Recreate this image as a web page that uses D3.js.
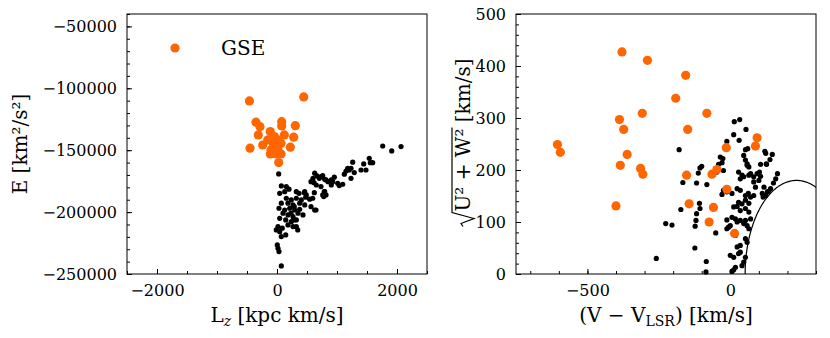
<!DOCTYPE html>
<html>
<head>
<meta charset="utf-8">
<script src="https://cdn.jsdelivr.net/npm/d3@7"></script>
<style>
body { margin: 0; background: #fff; }
text { font-family: "DejaVu Serif", serif; fill: #000; }
</style>
</head>
<body>
<div id="chart"></div>
<script>
// values
// left panel: [Lz (kpc km/s), E (km^2/s^2)]
var gseLzE = [[-460,-110200],[445,-107000],[-350,-127400],[-283,-131000],[78,-127000],[78,-130400],[305,-130200],
  [-312,-137700],[-112,-135000],[-45,-139000],[122,-137700],[278,-139500],[-155,-141700],[12,-141700],[-238,-145800],
  [-55,-145200],[67,-144400],[222,-147600],[-450,-148400],[-100,-149800],[12,-148400],[-112,-153000],[-17,-153000],
  [67,-153000],[28,-160000],[-55,-151200]];

var restLzE = [[28,-169200],[628,-168600],[667,-170800],[600,-172700],[738,-171400],[795,-173500],[617,-176200],
  [655,-178100],[850,-175400],[905,-174000],[905,-178100],[72,-178900],[155,-179400],[200,-181500],[45,-184800],
  [128,-183500],[322,-183500],[367,-184800],[462,-183500],[488,-186100],[795,-183500],[795,-186100],[155,-188800],
  [238,-190200],[322,-188800],[405,-190200],[478,-188000],[545,-189600],[72,-192800],[183,-192800],[267,-194200],
  [378,-192800],[462,-194200],[33,-196900],[128,-198300],[212,-196900],[295,-198300],[378,-197700],[628,-198300],
  [100,-200900],[183,-202300],[267,-203700],[350,-200900],[433,-202300],[45,-205000],[145,-206300],[238,-207700],
  [322,-206300],[17,-211700],[88,-213000],[183,-210400],[267,-211700],[322,-211700],[-12,-214400],[45,-215800],
  [72,-219800],[145,-218400],[5,-226500],[17,-229200],[33,-231900],[72,-243500],[1762,-146600],[1912,-150600],
  [2067,-147100],[1538,-156500],[1555,-160100],[1445,-161100],[1262,-159700],[1178,-164600],[1150,-166800],
  [1122,-169400],[1205,-166000],[1233,-164600],[955,-171800],[1012,-176700],[1095,-177500],[1038,-178600],
  [928,-175400],[762,-170600],[817,-174000],[788,-183500],[817,-186100],[762,-186100],[622,-184300],[595,-188800],
  [567,-195600],[650,-198300],[455,-184300],[288,-195600],[233,-200900],[288,-206300],[345,-214400],[778,-187500],
  [567,-175400],[705,-172700],[733,-179400],[1233,-172700],[1288,-168100],[1400,-166000],[1483,-166000],[1595,-160100]];

// right panel: [V - V_LSR (km/s), sqrt(U^2+W^2) (km/s)]
var gseVUW = [[-379,427],[-290,411],[-156,382],[-191,338],[-308,309],[-82,309],[-388,297],[-373,278],[-149,278],
  [94,262],[88,246],[-605,249],[-595,234],[-14,243],[-361,230],[-385,209],[-314,203],[-306,192],[-153,190],
  [-64,192],[-47,201],[-12,163],[-400,131],[-144,135],[-59,128],[-74,100],[15,78]];

var restVUW = [[-179,239],[-166,176],[-173,124],[-226,97],[-204,94],[-259,30],[-124,50],[-84,24],[-85,4],[-118,175],
  [-112,194],[-106,204],[-100,207],[-82,172],[-118,116],[-120,103],[-123,92],[-108,136],[-106,126],
  [14,293],[33,297],[55,278],[12,268],[31,257],[-12,255],[53,239],[61,241],[47,228],[53,219],[121,236],[124,232],
  [-26,222],[-29,214],[-41,211],[59,209],[65,206],[106,211],[126,212],[-24,199],[29,196],[41,190],[71,193],[82,187],
  [102,196],[106,188],[82,177],[100,180],[88,167],[118,167],[-29,153],[6,155],[53,151],[63,155],[71,148],[82,151],
  [112,155],[124,151],[130,158],[29,138],[41,135],[53,142],[65,136],[24,130],[35,122],[53,126],[65,119],[6,109],
  [18,106],[24,100],[35,103],[53,103],[71,106],[47,97],[59,93],[65,87],[-12,104],[-6,90],[-51,79],[53,68],[59,61],
  [24,52],[35,42],[29,39],[0,36],[12,32],[18,13],[12,8],[6,5],[47,23],[41,16],[53,32],[147,230],[139,220],[127,211],
  [165,193],[159,183],[151,175],[141,164],[133,159],[115,148],[-12,158],[12,129],[-12,87],[0,93],[18,74],[35,55],
  [-47,196],[-35,225],[-24,161],[35,161],[24,164],[59,212],[47,187],[35,183],[65,190],[94,193]];

var lzTicks = [-2000, 0, 2000];
var eTicks = [-250000, -200000, -150000, -100000, -50000];
var vTicks = [-500, 0];
var uwTicks = [0, 100, 200, 300, 400, 500];

// halo boundary: |V_tot - V_LSR| = 180 km/s
var vLSR = 232, vCut = 180;

var orange = "#ff6600";
var rBig = 4.6, rSmall = 2.6;

var svg = d3.select("#chart").append("svg")
  .attr("width", 830)
  .attr("height", 338);

var xL = d3.scaleLinear().domain([-2500, 2500]).range([127, 427]);
var yL = d3.scaleLinear().domain([-250000, -40000]).range([274, 14]);
var xR = d3.scaleLinear().domain([-750, 300]).range([516, 816]);
var yR = d3.scaleLinear().domain([0, 500]).range([274, 14]);

function drawAxes(x, y, xt, xm, yt, ym) {
  var fmt = d3.format("d");
  var x0 = x.range()[0], y0 = y.range()[0];

  var bm = svg.append("g").attr("transform", "translate(0," + y0 + ")")
    .call(d3.axisBottom(x).tickValues(xm).tickSize(-3).tickSizeOuter(0).tickFormat(""));
  var bM = svg.append("g").attr("transform", "translate(0," + y0 + ")")
    .call(d3.axisBottom(x).tickValues(xt).tickSize(-5).tickSizeOuter(0).tickPadding(11).tickFormat(fmt));
  var lm = svg.append("g").attr("transform", "translate(" + x0 + ",0)")
    .call(d3.axisLeft(y).tickValues(ym).tickSize(-3).tickSizeOuter(0).tickFormat(""));
  var lM = svg.append("g").attr("transform", "translate(" + x0 + ",0)")
    .call(d3.axisLeft(y).tickValues(yt).tickSize(-5).tickSizeOuter(0).tickPadding(10).tickFormat(fmt));

  [bm, bM, lm, lM].forEach(function(g) {
    g.select(".domain").remove();
    g.attr("font-family", "DejaVu Serif").attr("font-size", 16);
  });

  svg.append("rect")
    .attr("x", x0).attr("y", y.range()[1])
    .attr("width", x.range()[1] - x0)
    .attr("height", y0 - y.range()[1])
    .attr("fill", "none")
    .attr("stroke", "#000")
    .attr("stroke-width", 1);
}

// ---- left panel
drawAxes(xL, yL, lzTicks, d3.range(-2500, 2501, 500), eTicks, d3.range(-250000, -39999, 10000));

svg.append("g").selectAll("circle")
  .data(restLzE).enter().append("circle")
  .attr("cx", function(d) { return xL(d[0]); })
  .attr("cy", function(d) { return yL(d[1]); })
  .attr("r", rSmall)
  .attr("fill", "#000");

svg.append("g").selectAll("circle")
  .data(gseLzE).enter().append("circle")
  .attr("cx", function(d) { return xL(d[0]); })
  .attr("cy", function(d) { return yL(d[1]); })
  .attr("r", rBig)
  .attr("fill", orange);

// legend
svg.append("circle").attr("cx", 175).attr("cy", 48).attr("r", rBig).attr("fill", orange);
svg.append("text").attr("x", 221).attr("y", 55).attr("font-size", 20).text("GSE");

// x label with subscript z
var lx = svg.append("text").attr("x", 277).attr("y", 322)
  .attr("text-anchor", "middle").attr("font-size", 20);
lx.append("tspan").text("L");
lx.append("tspan").attr("font-size", 14).attr("font-style", "italic").attr("dy", 4).text("z");
lx.append("tspan").attr("dy", -4).text(" [kpc km/s]");

svg.append("text")
  .attr("transform", "translate(27,144) rotate(-90)")
  .attr("text-anchor", "middle").attr("font-size", 20)
  .text("E [km\u00b2/s\u00b2]");

// ---- right panel
drawAxes(xR, yR, vTicks, d3.range(-700, 301, 100), uwTicks, d3.range(0, 501, 20));

svg.append("clipPath").attr("id", "clipR")
  .append("rect").attr("x", 516).attr("y", 14).attr("width", 300).attr("height", 260);

var arc = d3.range(0, 181).map(function(a) {
  var t = a * Math.PI / 180;
  return [vLSR - vCut * Math.cos(t), vCut * Math.sin(t)];
});
svg.append("path")
  .datum(arc)
  .attr("clip-path", "url(#clipR)")
  .attr("fill", "none")
  .attr("stroke", "#000")
  .attr("stroke-width", 1.2)
  .attr("d", d3.line().x(function(d) { return xR(d[0]); }).y(function(d) { return yR(d[1]); }));

svg.append("g").selectAll("circle")
  .data(restVUW).enter().append("circle")
  .attr("cx", function(d) { return xR(d[0]); })
  .attr("cy", function(d) { return yR(d[1]); })
  .attr("r", rSmall)
  .attr("fill", "#000");

svg.append("g").selectAll("circle")
  .data(gseVUW).enter().append("circle")
  .attr("cx", function(d) { return xR(d[0]); })
  .attr("cy", function(d) { return yR(d[1]); })
  .attr("r", rBig)
  .attr("fill", orange);

var rx = svg.append("text").attr("x", 666).attr("y", 322)
  .attr("text-anchor", "middle").attr("font-size", 20);
rx.append("tspan").text("(V \u2212 V");
rx.append("tspan").attr("font-size", 14).attr("dy", 4).text("LSR");
rx.append("tspan").attr("dy", -4).text(") [km/s]");

// y label with a drawn radical over U^2 + W^2
var ry = svg.append("g").attr("transform", "translate(470,143) rotate(-90)");
var inner = ry.append("g");
var rt = inner.append("text").attr("x", 16).attr("y", 0).attr("font-size", 20)
  .text("U\u00b2 + W\u00b2 [km/s]");
var rootW = rt.node().getSubStringLength(0, 7);
var fullW = rt.node().getComputedTextLength() + 16;
inner.attr("transform", "translate(" + (-fullW / 2) + ",0)");
inner.append("path")
  .attr("fill", "none").attr("stroke", "#000").attr("stroke-width", 1.2)
  .attr("d", "M1,-7 L4,-9 L9,4 L15,-18 L" + (16 + rootW + 1) + ",-18");
</script>
</body>
</html>
